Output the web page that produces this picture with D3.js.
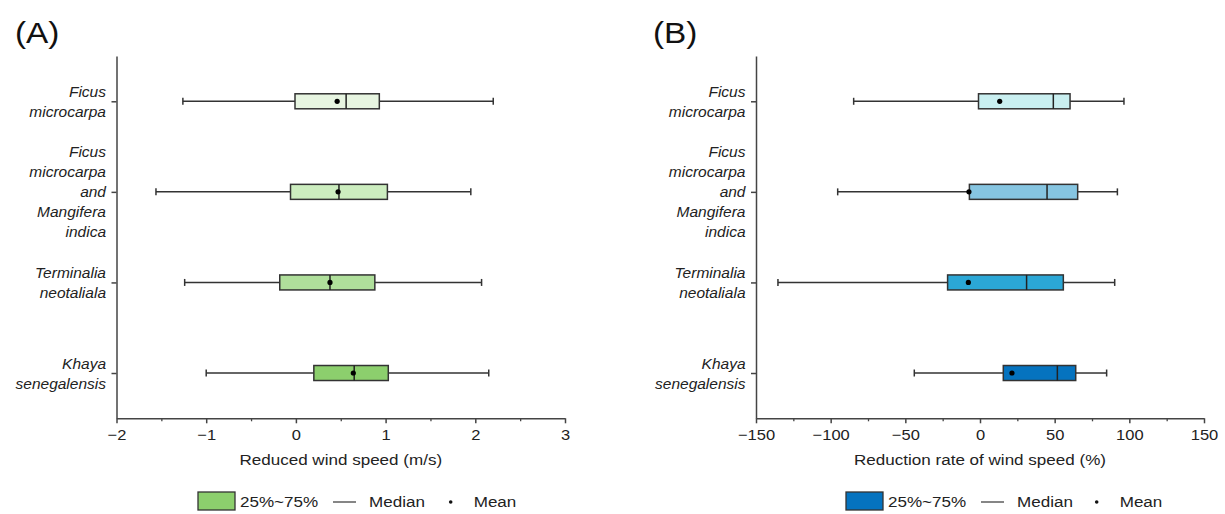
<!DOCTYPE html>
<html>
<head>
<meta charset="utf-8">
<script src="https://cdn.jsdelivr.net/npm/d3@7"></script>
<style>
  html, body { margin: 0; padding: 0; background: #fff; }
  svg { display: block; font-family: "Liberation Sans", Arial, sans-serif; }
</style>
</head>
<body>
<svg id="chart" width="1225" height="514"></svg>
<script>
// Tree species (rows, top to bottom); each label is split into lines
const categories = ["Ficus microcarpa", "Ficus microcarpa and Mangifera indica", "Terminalia neotaliala", "Khaya senegalensis"];
const categoryLines = [
  ["Ficus", "microcarpa"],
  ["Ficus", "microcarpa", "and", "Mangifera", "indica"],
  ["Terminalia", "neotaliala"],
  ["Khaya", "senegalensis"]
];

// (A) Reduced wind speed (m/s)
const minA    = [-1.26, -1.56, -1.24, -1.00];
const q1A     = [-0.01, -0.06, -0.18,  0.20];
const medianA = [ 0.56,  0.48,  0.38,  0.65];
const meanA   = [ 0.46,  0.47,  0.38,  0.64];
const q3A     = [ 0.93,  1.02,  0.88,  1.03];
const maxA    = [ 2.20,  1.95,  2.07,  2.15];
const ticksA  = [-2, -1, 0, 1, 2, 3];
const minorA  = [-1.5, -0.5, 0.5, 1.5, 2.5];

// (B) Reduction rate of wind speed (%)
const minB    = [-84.6, -95.3, -135.3, -44.0];
const q1B     = [ -1.0,  -7.1,  -21.7,  15.6];
const medianB = [ 49.1,  44.9,   31.2,  51.8];
const meanB   = [ 13.2,  -7.4,   -7.8,  21.4];
const q3B     = [ 60.3,  65.4,   55.8,  64.1];
const maxB    = [ 96.4,  92.0,   90.2,  84.8];
const ticksB  = [-150, -100, -50, 0, 50, 100, 150];
const minorB  = [-125, -75, -25, 25, 75, 125];

const fillsA = ["#e7f5e1", "#ccedbf", "#afdf9b", "#8ccf6d"];
const fillsB = ["#c9eff0", "#86c5e1", "#2ba7d6", "#0573bf"];
const legendFillA = "#8ccf6d";
const legendFillB = "#0573bf";

const svg = d3.select("#chart");
const ink = "#333";
const FS = 15.5;     // base font size
const SX = 1.1;      // glyph widening

// text helper: places a string at (x,y) and widens it around its anchor
function label(parent, x, y, str, o = {}) {
  const t = parent.append("text")
    .attr("transform", `translate(${x},${y}) scale(${o.sx || SX},1)`)
    .attr("text-anchor", o.anchor || "start")
    .attr("font-size", o.size || FS)
    .attr("fill", o.fill || "#222")
    .text(str);
  if (o.italic) t.attr("font-style", "italic");
  return t;
}

function panel(opt) {
  const g = svg.append("g");
  const x = d3.scaleLinear().domain(opt.domain).range([opt.left, opt.right]);
  const y = d3.scalePoint().domain(categories).range([56, 418.3]).padding(0.5);
  const bottom = 418.3;

  // minor ticks
  g.append("g")
    .attr("transform", `translate(0,${bottom})`)
    .call(d3.axisBottom(x).tickValues(opt.minor).tickSize(3).tickFormat(""))
    .call(a => a.select(".domain").remove())
    .call(a => a.selectAll("line").attr("stroke", "#444").attr("stroke-width", 1.3));

  // major ticks + labels
  g.append("g")
    .attr("transform", `translate(0,${bottom})`)
    .call(d3.axisBottom(x).tickValues(opt.ticks).tickFormat(d3.format("d"))
      .tickSize(5).tickSizeOuter(0).tickPadding(6))
    .call(a => a.select(".domain").attr("stroke", "#444").attr("stroke-width", 1.5))
    .call(a => a.selectAll("line").attr("stroke", "#444").attr("stroke-width", 1.5))
    .call(a => a.selectAll("text")
      .attr("fill", "#222").attr("font-size", 15)
      .attr("font-family", "Liberation Sans, Arial, sans-serif")
      .attr("transform", `scale(${SX},1)`));

  // left axis
  const yAxis = g.append("g")
    .attr("transform", `translate(${opt.left},0)`)
    .call(d3.axisLeft(y).tickSize(5).tickSizeOuter(0).tickFormat(""));
  yAxis.select(".domain").attr("stroke", "#444").attr("stroke-width", 1.5);
  yAxis.selectAll("line").attr("stroke", "#444").attr("stroke-width", 1.5);

  // multi-line italic category labels
  categories.forEach((c, i) => {
    const lines = categoryLines[i];
    lines.forEach((ln, k) => {
      label(g, opt.left - 10.5, y(c) + (k - (lines.length - 1) / 2) * 20 + 5.5, ln,
        { anchor: "end", italic: true, sx: 1.0 });
    });
  });

  // boxes
  const hh = 7.5, cap = 3.5;
  categories.forEach((c, i) => {
    const cy = y(c);
    const row = g.append("g").attr("stroke", ink).attr("stroke-width", 1.5);
    row.append("line").attr("x1", x(opt.min[i])).attr("x2", x(opt.q1[i])).attr("y1", cy).attr("y2", cy);
    row.append("line").attr("x1", x(opt.q3[i])).attr("x2", x(opt.max[i])).attr("y1", cy).attr("y2", cy);
    row.append("line").attr("x1", x(opt.min[i])).attr("x2", x(opt.min[i])).attr("y1", cy - cap).attr("y2", cy + cap);
    row.append("line").attr("x1", x(opt.max[i])).attr("x2", x(opt.max[i])).attr("y1", cy - cap).attr("y2", cy + cap);
    row.append("rect")
      .attr("x", x(opt.q1[i])).attr("y", cy - hh)
      .attr("width", x(opt.q3[i]) - x(opt.q1[i])).attr("height", 2 * hh)
      .attr("fill", opt.fills[i]);
    row.append("line").attr("x1", x(opt.median[i])).attr("x2", x(opt.median[i])).attr("y1", cy - hh).attr("y2", cy + hh).attr("stroke", "#222");
    g.append("circle").attr("cx", x(opt.mean[i])).attr("cy", cy).attr("r", 2.6).attr("fill", "#000");
  });

  // axis title
  label(g, (opt.left + opt.right) / 2, 465, opt.title, { anchor: "middle" });

  // panel letter
  label(g, opt.letterX, 43, opt.letter, { size: 29, sx: 1.15, fill: "#111" });

  // legend
  const L = opt.legend;
  g.append("rect").attr("x", L.box).attr("y", 492).attr("width", 37).attr("height", 18)
    .attr("fill", opt.legendFill).attr("stroke", ink).attr("stroke-width", 1.3);
  label(g, L.box + 42, 507, "25%~75%");
  g.append("line").attr("x1", L.line).attr("x2", L.line + 23).attr("y1", 502).attr("y2", 502)
    .attr("stroke", "#444").attr("stroke-width", 1.3);
  label(g, L.line + 36, 507, "Median");
  g.append("circle").attr("cx", L.dot).attr("cy", 502).attr("r", 1.8).attr("fill", "#111");
  label(g, L.dot + 23, 507, "Mean");
}

panel({
  domain: [-2, 3], left: 116.5, right: 565, ticks: ticksA, minor: minorA,
  min: minA, q1: q1A, median: medianA, mean: meanA, q3: q3A, max: maxA,
  fills: fillsA, legendFill: legendFillA,
  title: "Reduced wind speed (m/s)", letter: "(A)", letterX: 15,
  legend: { box: 198, line: 333, dot: 450.7 }
});

panel({
  domain: [-150, 150], left: 756, right: 1204, ticks: ticksB, minor: minorB,
  min: minB, q1: q1B, median: medianB, mean: meanB, q3: q3B, max: maxB,
  fills: fillsB, legendFill: legendFillB,
  title: "Reduction rate of wind speed (%)", letter: "(B)", letterX: 653,
  legend: { box: 846, line: 981, dot: 1096.7 }
});
</script>
</body>
</html>
